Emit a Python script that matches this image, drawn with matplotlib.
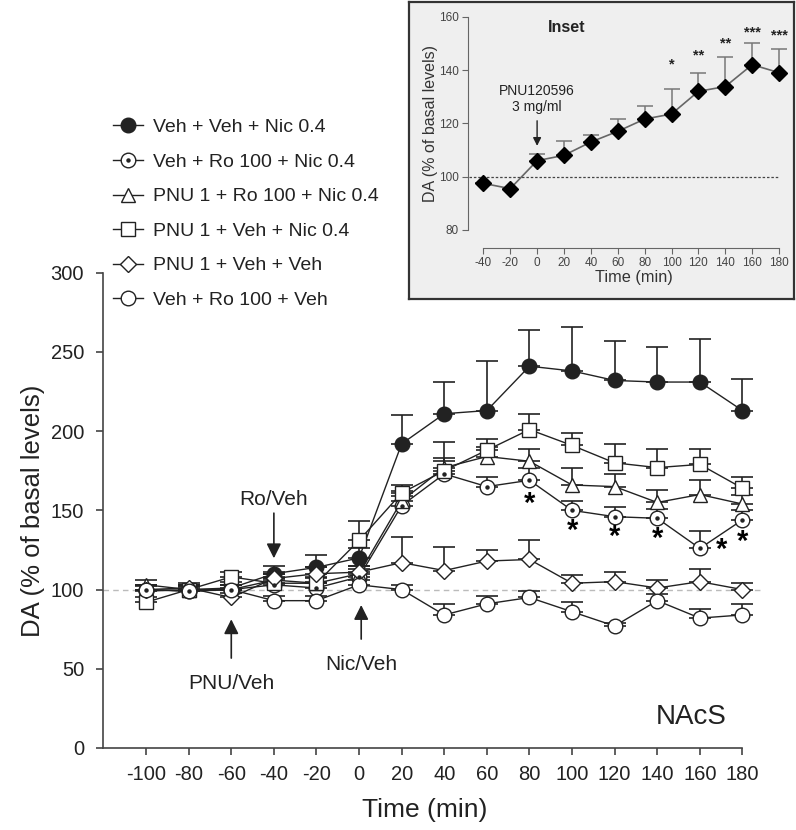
import numpy as np
import matplotlib
matplotlib.use('Agg')
import matplotlib.pyplot as plt
from matplotlib.lines import Line2D

plt.rcParams['font.family'] = ['Liberation Sans', 'DejaVu Sans']
plt.rcParams['axes.unicode_minus'] = False

# main panel data (NAcS)
times = [-100, -80, -60, -40, -20, 0, 20, 40, 60, 80, 100, 120, 140, 160, 180]

veh_veh_nic = [99, 100, 101, 110, 114, 120, 192, 211, 213, 241, 238, 232, 231, 231, 213]
veh_veh_nic_err = [3, 3, 4, 5, 8, 6, 18, 20, 31, 23, 28, 25, 22, 27, 20]

veh_ro_nic = [100, 99, 100, 103, 101, 108, 153, 173, 165, 169, 150, 146, 145, 126, 144]
veh_ro_nic_err = [3, 3, 3, 4, 4, 5, 6, 8, 6, 8, 6, 6, 6, 11, 6]

pnu_ro_nic = [103, 100, 100, 106, 104, 110, 156, 177, 184, 181, 166, 165, 155, 160, 154]
pnu_ro_nic_err = [3, 3, 3, 4, 4, 5, 6, 16, 6, 8, 11, 8, 8, 9, 6]

pnu_veh_nic = [92, 100, 108, 104, 104, 131, 161, 175, 188, 201, 191, 180, 177, 179, 164]
pnu_veh_nic_err = [3, 3, 3, 4, 3, 12, 5, 8, 7, 10, 8, 12, 12, 10, 7]

pnu_veh_veh = [100, 101, 95, 107, 110, 111, 117, 112, 118, 119, 104, 105, 101, 105, 100]
pnu_veh_veh_err = [3, 3, 3, 4, 4, 4, 16, 15, 7, 12, 5, 6, 5, 8, 4]

veh_ro_veh = [100, 99, 100, 93, 93, 103, 100, 84, 91, 95, 86, 77, 93, 82, 84]
veh_ro_veh_err = [3, 3, 3, 3, 3, 3, 3, 7, 5, 4, 6, 2, 4, 6, 7]

labels = ['Veh + Veh + Nic 0.4', 'Veh + Ro 100 + Nic 0.4', 'PNU 1 + Ro 100 + Nic 0.4',
          'PNU 1 + Veh + Nic 0.4', 'PNU 1 + Veh + Veh', 'Veh + Ro 100 + Veh']

star_times = [80, 100, 120, 140, 170, 180]
star_vals = [154, 137, 133, 132, 125, 130]

# inset data
inset_times = [-40, -20, 0, 20, 40, 60, 80, 100, 120, 140, 160, 180]
inset_vals = [97.5, 95.5, 106, 108, 113, 117, 121.6, 123.5, 132, 133.8, 142, 139]
inset_err = [0, 0, 2.5, 5.3, 2.8, 4.6, 4.9, 9.4, 6.8, 11.2, 8, 8.8]
inset_stars = ['*', '**', '**', '***', '***']
inset_star_times = [100, 120, 140, 160, 180]
inset_star_vals = [142, 145.5, 150, 154, 153]

ink = '#222222'

fig = plt.figure(figsize=(7.96, 8.30), dpi=100)
ax = fig.add_axes([0.130, 0.0988, 0.8295, 0.5726])

ax.axhline(100, color='#bbbbbb', lw=1, ls=(0, (4, 3)), zorder=0)

series = [veh_veh_nic, veh_ro_nic, pnu_ro_nic, pnu_veh_nic, pnu_veh_veh, veh_ro_veh]
errs = [veh_veh_nic_err, veh_ro_nic_err, pnu_ro_nic_err, pnu_veh_nic_err, pnu_veh_veh_err, veh_ro_veh_err]
markers = ['o', 'o', '^', 's', 'D', 'o']
faces = [ink, 'white', 'white', 'white', 'white', 'white']
sizes = [10.5, 10.5, 10, 9.5, 8.5, 10.5]

handles = []
for i in range(len(series)):
    err = np.array(errs[i])
    ax.errorbar(times, series[i], yerr=[np.zeros_like(err), err], fmt='none',
                ecolor=ink, elinewidth=1.2, capsize=8, capthick=1.2, clip_on=False, zorder=2)
    ax.plot(times, series[i], color=ink, lw=1.0, marker=markers[i], ms=sizes[i],
            mfc=faces[i], mec=ink, mew=1.0, clip_on=False, zorder=3)
    h = Line2D([], [], color=ink, lw=1.0, marker=markers[i], ms=sizes[i], mfc=faces[i], mec=ink, mew=1.0)
    if i == 1:
        ax.plot(times, series[i], ls='none', marker='o', ms=2.2, color=ink, zorder=4, clip_on=False)
        h = (h, Line2D([], [], ls='none', marker='o', ms=2.2, color=ink))
    handles.append(h)

for t, v in zip(star_times, star_vals):
    ax.text(t, v, '*', fontsize=21, fontweight='bold', ha='center', va='center')

# injection arrows
arrow = dict(arrowstyle='-|>', color=ink, lw=1.2, mutation_scale=22)
ax.annotate('', xy=(-40, 118), xytext=(-40, 150), arrowprops=arrow)
ax.text(-40, 157, 'Ro/Veh', fontsize=15, ha='center', va='center', color=ink)
ax.annotate('', xy=(-60, 83), xytext=(-60, 55), arrowprops=arrow)
ax.text(-60, 41, 'PNU/Veh', fontsize=15, ha='center', va='center', color=ink)
ax.annotate('', xy=(1, 92), xytext=(1, 67), arrowprops=arrow)
ax.text(1, 53, 'Nic/Veh', fontsize=15, ha='center', va='center', color=ink)

ax.text(172.7, 19.5, 'NAcS', fontsize=20, ha='right', va='center', color=ink)

ax.set_xlim(-120, 190)
ax.set_ylim(0, 300)
ax.set_xticks(times)
ax.set_yticks([0, 50, 100, 150, 200, 250, 300])
ax.spines['top'].set_visible(False)
ax.spines['right'].set_visible(False)
ax.spines['bottom'].set_bounds(-120, 180)
for s in ['left', 'bottom']:
    ax.spines[s].set_color('#444444')
    ax.spines[s].set_linewidth(1.2)
ax.tick_params(labelsize=14.5, length=5, width=1.2, color='#444444', labelcolor=ink)
ax.tick_params(axis='x', pad=7)
ax.tick_params(axis='y', pad=9)
ax.set_xlabel('Time (min)', fontsize=19, color=ink)
ax.xaxis.set_label_coords(0.486, -0.105)
ax.set_ylabel('DA (% of basal levels)', fontsize=18.5, color=ink, labelpad=4)

fig.legend(handles, labels, loc='upper left', bbox_to_anchor=(0.142, 0.857), frameon=False,
           fontsize=14, handlelength=1.55, handletextpad=0.5, labelspacing=0.87,
           borderpad=0, borderaxespad=0, labelcolor=ink)

# inset box
box = fig.add_axes([0.514, 0.640, 0.484, 0.358])
box.set_facecolor('#efefef')
box.set_xticks([])
box.set_yticks([])
for s in box.spines.values():
    s.set_color('#333333')
    s.set_linewidth(1.6)

ins = fig.add_axes([0.6072, 0.7229, 0.3783, 0.257])
ins.patch.set_visible(False)
ins.hlines(100, -51, 180, colors='#444444', lw=0.9, linestyles=(0, (2, 1.5)), clip_on=False)
ins.errorbar(inset_times, inset_vals, yerr=[np.zeros(len(inset_err)), inset_err], fmt='none',
             ecolor='#777777', elinewidth=1.1, capsize=6, capthick=1.1, clip_on=False)
ins.plot(inset_times, inset_vals, color='#666666', lw=1.2, marker='D', ms=8,
         mfc='black', mec='black', clip_on=False, zorder=3)
for t, v, s in zip(inset_star_times, inset_star_vals, inset_stars):
    ins.text(t, v, s, fontsize=10.5, fontweight='bold', ha='center', va='center', color=ink)
ins.text(22, 156, 'Inset', fontsize=11.5, fontweight='bold', ha='center', va='center', color=ink)
ins.annotate('', xy=(0, 110.5), xytext=(0, 122), arrowprops=dict(arrowstyle='-|>', color=ink, lw=1, mutation_scale=12))
ins.text(0, 123.5, 'PNU120596\n3 mg/ml', fontsize=10, ha='center', va='bottom', linespacing=1.15, color=ink)

ins.set_xlim(-40, 184)
ins.set_ylim(80, 160)
ins.set_xticks(inset_times)
ins.set_yticks([80, 100, 120, 140, 160])
ins.spines['top'].set_visible(False)
ins.spines['right'].set_visible(False)
ins.spines['left'].set_position(('outward', 11))
ins.spines['bottom'].set_position(('outward', 13))
ins.spines['bottom'].set_bounds(-40, 180)
for s in ['left', 'bottom']:
    ins.spines[s].set_color('#666666')
ins.tick_params(labelsize=8.5, length=4, color='#666666', labelcolor='#444444', pad=2.5)
ins.set_xlabel('Time (min)', fontsize=11.7, color='#333333', labelpad=1)
ins.set_ylabel('DA (% of basal levels)', fontsize=11.5, color='#333333', labelpad=1)

fig.savefig('out.png', dpi=100)
